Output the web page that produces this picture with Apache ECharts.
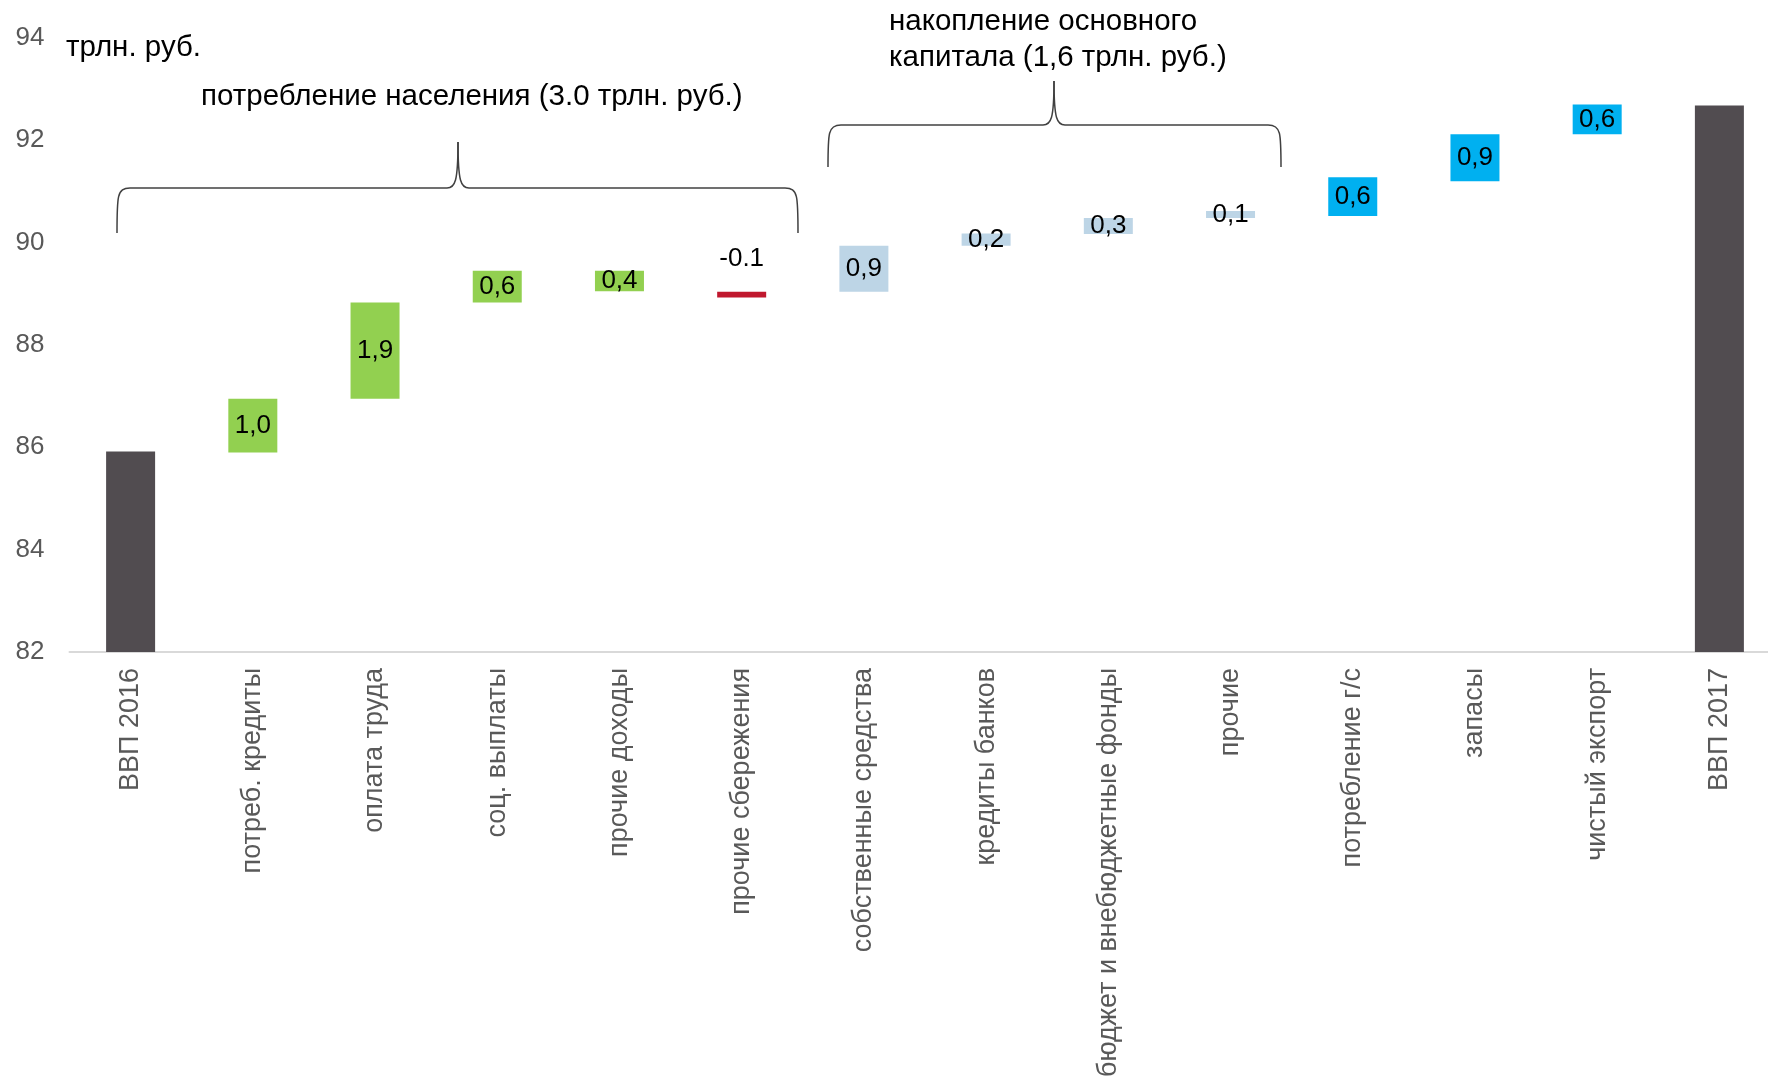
<!DOCTYPE html>
<html><head><meta charset="utf-8">
<script src="https://cdn.jsdelivr.net/npm/echarts@6/dist/echarts.min.js"></script>
<style>html,body{margin:0;padding:0;background:#fff;overflow:hidden}#c{width:1790px;height:1080px}</style>
</head><body><div id="c"></div>
<script>
// ---- data ----
const categories = ['ВВП 2016','потреб. кредиты','оплата труда','соц. выплаты','прочие доходы','прочие сбережения','собственные средства','кредиты банков','бюджет и внебюджетные фонды','прочие','потребление г/с','запасы','чистый экспорт','ВВП 2017'];
const barLow  = [82,    85.90, 86.95, 88.83, 89.05, 88.93, 89.04, 89.94, 90.17, 90.48, 90.52, 91.20, 92.12, 82];
const barHigh = [85.92, 86.95, 88.83, 89.45, 89.45, 89.04, 89.94, 90.18, 90.48, 90.62, 91.28, 92.12, 92.70, 92.68];
const barLabels = ['', '1,0', '1,9', '0,6', '0,4', '-0.1', '0,9', '0,2', '0,3', '0,1', '0,6', '0,9', '0,6', ''];
const barGroups = ['total','hh','hh','hh','hh','neg','inv','inv','inv','inv','oth','oth','oth','total'];
const yMin = 82, yMax = 94, yStep = 2;
const unitText = 'трлн. руб.';
const groupTitle1 = 'потребление населения (3.0 трлн. руб.)';
const groupTitle2 = ['накопление основного', 'капитала (1,6 трлн. руб.)'];

// ---- styles ----
const groupColors = {total:'#514C50', hh:'#92D050', neg:'#C0182E', inv:'#BDD5E6', oth:'#00B0F0'};
const FONT = '"Liberation Sans", Arial, sans-serif';

const chart = echarts.init(document.getElementById('c'), null, {renderer:'canvas'});

const baseData = barLow.map(v => v);
const deltaData = barHigh.map((h, i) => {
  const neg = barGroups[i] === 'neg';
  return {
    value: +(h - barLow[i]).toFixed(4),
    itemStyle: {color: groupColors[barGroups[i]]},
    label: {
      show: barLabels[i] !== '',
      formatter: barLabels[i],
      position: neg ? 'top' : 'inside',
      distance: neg ? 20 : 5
    }
  };
});

const braceStyle = {stroke:'#404040', lineWidth:1.5, fill:null};
function brace(xl, xr, yEnd, yBar, xm, yPeak) {
  const r = 13;
  return [
    {type:'bezierCurve', shape:{x1:xl, y1:yEnd, cpx1:xl, cpy1:yBar+8, cpx2:xl, cpy2:yBar, x2:xl+r, y2:yBar}, style:braceStyle},
    {type:'line', shape:{x1:xl+r, y1:yBar, x2:xm-11, y2:yBar}, style:braceStyle},
    {type:'bezierCurve', shape:{x1:xm-11, y1:yBar, cpx1:xm-3, cpy1:yBar, cpx2:xm, cpy2:yBar-6, x2:xm, y2:yPeak}, style:braceStyle},
    {type:'bezierCurve', shape:{x1:xm, y1:yPeak, cpx1:xm, cpy1:yBar-6, cpx2:xm+3, cpy2:yBar, x2:xm+11, y2:yBar}, style:braceStyle},
    {type:'line', shape:{x1:xm+11, y1:yBar, x2:xr-r, y2:yBar}, style:braceStyle},
    {type:'bezierCurve', shape:{x1:xr-r, y1:yBar, cpx1:xr, cpy1:yBar, cpx2:xr, cpy2:yBar+8, x2:xr, y2:yEnd}, style:braceStyle}
  ];
}

chart.setOption({
  animation: false,
  backgroundColor: '#fff',
  grid: {left: 69.5, top: 38, width: 1711, height: 617, containLabel: false},
  xAxis: {
    type: 'category',
    data: categories,
    axisLine: {show: true, lineStyle: {color: '#D9D9D9', width: 2}},
    axisTick: {show: false},
    axisLabel: {rotate: 90, margin: 16, color: '#595959', fontSize: 27, fontFamily: FONT, interval: 0}
  },
  yAxis: {
    type: 'value', min: yMin, max: yMax, interval: yStep,
    axisLine: {show: false}, axisTick: {show: false}, splitLine: {show: false},
    axisLabel: {color: '#595959', fontSize: 26, fontFamily: FONT, margin: 25}
  },
  series: [
    {type: 'bar', stack: 'w', data: baseData, barWidth: 49, silent: true,
     itemStyle: {color: 'rgba(0,0,0,0)'}, label: {show: false}},
    {type: 'bar', stack: 'w', data: deltaData, barWidth: 49,
     label: {color: '#000', fontSize: 26, fontFamily: FONT}}
  ],
  graphic: [
    {type:'text', left: 66, top: 33, style:{text: unitText, fill:'#000', font: '29.5px ' + FONT}},
    {type:'text', left: 201, top: 82, style:{text: groupTitle1, fill:'#000', font: '29.5px ' + FONT}},
    {type:'text', left: 889, top: 4, style:{text: groupTitle2.join('\n'), fill:'#000', font: '29.5px ' + FONT, lineHeight: 36}}
  ].concat(brace(117, 798, 233, 188, 458, 142), brace(828, 1281, 167, 125, 1054, 81))
});
</script></body></html>
